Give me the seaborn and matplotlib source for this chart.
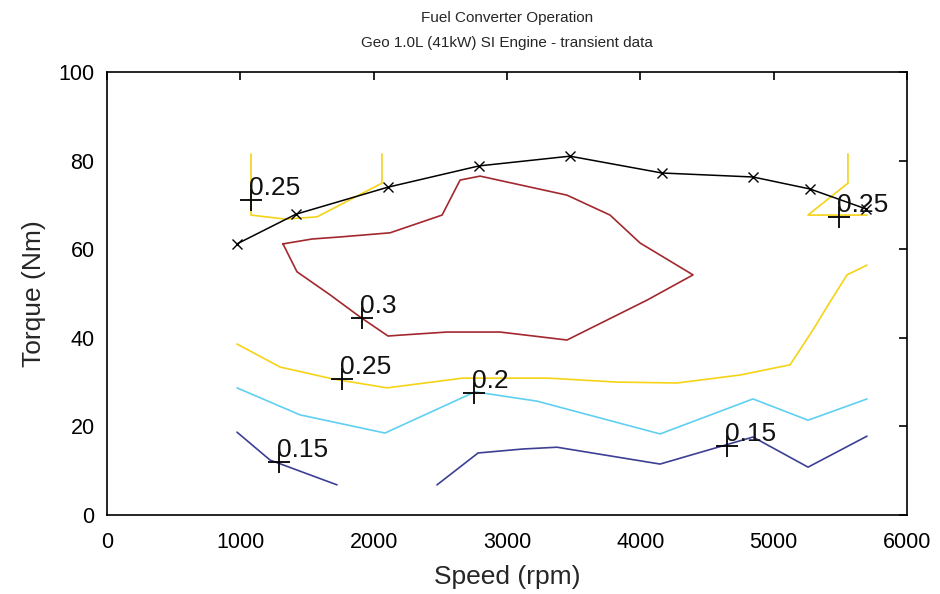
import matplotlib
matplotlib.use("Agg")
import matplotlib.pyplot as plt
import seaborn as sns
import pandas as pd

# ---------------- data ----------------
max_speed = [975, 1417, 2107, 2790, 3472, 4162, 4845, 5272, 5692]
max_torque = [61.2, 67.9, 74.0, 78.8, 81.0, 77.2, 76.3, 73.6, 69.1]

c025_ul_x = [1080, 1080, 1335, 1575, 2062, 2062]
c025_ul_y = [81.5, 67.7, 66.8, 67.3, 74.9, 81.5]

c025_ur_x = [5557, 5557, 5257, 5700]
c025_ur_y = [81.5, 74.9, 67.7, 67.7]

c030_x = [1320, 1538, 1763, 2123, 2513, 2648, 2798, 3450, 3773, 3998, 4395,
          4050, 3450, 2948, 2550, 2198, 2108, 1898, 1673, 1425, 1373, 1320]
c030_y = [61.2, 62.3, 62.8, 63.7, 67.7, 75.6, 76.5, 72.2, 67.7, 61.4, 54.2,
          48.5, 39.5, 41.3, 41.3, 40.6, 40.4, 44.7, 49.7, 54.9, 58.0, 61.2]

c025_lo_x = [975, 1298, 1695, 2100, 2670, 3308, 3825, 4275, 4748, 5123, 5295, 5400, 5550, 5700]
c025_lo_y = [38.6, 33.4, 30.7, 28.7, 30.9, 30.9, 30.0, 29.8, 31.6, 33.9, 41.8, 47.0, 54.2, 56.4]

c020_x = [975, 1448, 2085, 2760, 3225, 4148, 4845, 5258, 5700]
c020_y = [28.7, 22.6, 18.5, 27.8, 25.7, 18.3, 26.2, 21.4, 26.2]

c015_a_x = [975, 1223, 1725]
c015_a_y = [18.7, 12.4, 6.8]

c015_b_x = [2475, 2783, 3120, 3375, 4148, 4845, 5258, 5700]
c015_b_y = [6.8, 14.0, 14.9, 15.3, 11.5, 17.6, 10.8, 17.8]

label_text = ["0.25", "0.25", "0.3", "0.25", "0.2", "0.15", "0.15"]
label_x = [1080, 5490, 1913, 1763, 2753, 1290, 4650]
label_y = [71.1, 67.3, 44.5, 30.7, 27.5, 12.0, 15.6]

x_ticks = [0, 1000, 2000, 3000, 4000, 5000, 6000]
y_ticks = [0, 20, 40, 60, 80, 100]

# ---------------- style ----------------
sns.set_style("white")
FONT = ["Liberation Sans Narrow", "Liberation Sans", "DejaVu Sans"]
plt.rcParams["font.family"] = FONT

YELLOW = "#f5d316"
CYAN = "#5fd0f2"
NAVY = "#3d3f94"
RED = "#a3282e"

fig = plt.figure(figsize=(9.4, 5.94), dpi=100)
ax = fig.add_axes([107 / 940, 79 / 594, 800 / 940, 443 / 594])

lw = 1.2
def draw(xs, ys, color):
    df = pd.DataFrame({"x": xs, "y": ys})
    sns.lineplot(data=df, x="x", y="y", sort=False, estimator=None,
                 color=color, lw=lw, ax=ax)

draw(c025_ul_x, c025_ul_y, YELLOW)
draw(c025_ur_x, c025_ur_y, YELLOW)
draw(c030_x, c030_y, RED)
draw(c025_lo_x, c025_lo_y, YELLOW)
draw(c020_x, c020_y, CYAN)
draw(c015_a_x, c015_a_y, NAVY)
draw(c015_b_x, c015_b_y, NAVY)

df_max = pd.DataFrame({"x": max_speed, "y": max_torque})
sns.lineplot(data=df_max, x="x", y="y", sort=False, estimator=None,
             color="black", lw=1.1, marker="x", markersize=7,
             markeredgewidth=1.0, markeredgecolor="black", ax=ax)

# contour labels
df_lab = pd.DataFrame({"x": label_x, "y": label_y})
sns.scatterplot(data=df_lab, x="x", y="y", marker="+", s=230,
                color="black", linewidth=1.3, ax=ax, zorder=5)
for t, xx, yy in zip(label_text, label_x, label_y):
    ax.annotate(t, (xx, yy), xytext=(-1.5, 3.8), textcoords="offset points",
                ha="left", va="baseline", fontsize=19, color="#111111",
                family=FONT, zorder=6)

ax.set_xlim(0, 6000)
ax.set_ylim(0, 100)
ax.set_xticks(x_ticks)
ax.set_yticks(y_ticks)
ax.set_xticklabels([str(v) for v in x_ticks])
ax.set_yticklabels([str(v) for v in y_ticks])
ax.tick_params(direction="in", length=6, width=1.2, top=True, right=True,
               labelsize=15.5, colors="black")
ax.tick_params(axis="x", pad=12)
ax.tick_params(axis="y", pad=9)
for sp in ax.spines.values():
    sp.set_visible(True)
    sp.set_color("black")
    sp.set_linewidth(1.2)

ax.set_xlabel("Speed (rpm)", fontsize=19, labelpad=9)
ax.set_ylabel("Torque (Nm)", fontsize=19, labelpad=9)
ax.set_title("Fuel Converter Operation\nGeo 1.0L (41kW) SI Engine - transient data",
             fontsize=11, linespacing=2.0, pad=18)

fig.savefig("out.png", dpi=100, facecolor="white")
